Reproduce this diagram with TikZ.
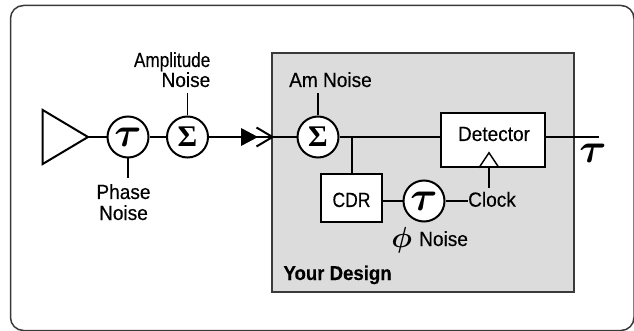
\documentclass[tikz,border=0pt]{standalone}
\usepackage[no-math]{fontspec}
\usepackage{amsmath}
\newfontfamily\lbl[FakeStretch=0.93,FakeBold=0.3]{Liberation Sans}
\newfontfamily\grk{Liberation Serif}
\usetikzlibrary{calc}
\definecolor{boxgray}{HTML}{DCDCDC}
\definecolor{edgegray}{HTML}{3A3A3A}
\newcommand\tausym{{\fontsize{20}{20}\selectfont\scalebox{2}{\boldmath$\tau$}}}
\newcommand\sigsym{{\grk\bfseries\fontsize{30}{30}\selectfont Σ}}
\newcommand\phisym{{\fontsize{20}{20}\selectfont\scalebox{1.4}{\boldmath$\phi$}}}
\begin{document}
\begin{tikzpicture}[x=1pt,y=-1pt,
  lbl/.style={font=\lbl\fontsize{20.5}{22}\selectfont, inner sep=0pt},
  lblb/.style={font=\lbl\bfseries\fontsize{20}{22}\selectfont, inner sep=0pt},
  ring/.style={circle, draw, line width=2pt, fill=white, minimum size=41pt, inner sep=0pt},
  blk/.style={draw, line width=1.5pt, fill=white, inner sep=0pt},
  wire/.style={line width=2pt, line cap=butt},
  frame/.style={draw=edgegray, line width=1.5pt, rounded corners=13pt}]
\useasboundingbox (0,0) rectangle (634,331);
% outer frame
\draw[frame] (10.5,5.5) rectangle (634,330.5);
% design box
\node[draw=edgegray, fill=boxgray, line width=1.3pt, minimum width=302pt, minimum height=239pt, inner sep=0pt] (design) at (423,172.5) {};
% amplifier
\coordinate (ampA) at (88,137);
\draw[line width=2pt, line join=miter] (42.7,110) -- (ampA) -- (42.7,164) -- cycle;
% nodes on main line
\node[ring] (tau1) at (128,137) {\tausym};
\node[ring] (sig1) at (187.5,137) {\sigsym};
\node[ring] (sig2) at (318,137) {\sigsym};
\node[blk, minimum width=104pt, minimum height=54pt] (det) at (493,140) {};
\node[lbl, anchor=base] (dettxt) at (494,141) {Detector};
\node[blk, minimum width=61pt, minimum height=48pt] (cdr) at (351.5,198) {};
\node[lbl, anchor=base] (cdrtxt) at (351.5,207) {\scalebox{0.92}[1]{CDR}};
\node[ring] (tau2) at (424,201) {\tausym};
\node[lbl, anchor=base west] (clocktxt) at (468,206.7) {Clock};
% labels
\node[lbl, anchor=base east] (ampl1) at (210.5,67) {\scalebox{0.9}[1]{Amplitude}};
\node[lbl, anchor=base east] (ampl2) at (210.5,87) {Noise};
\node[lbl, anchor=base] (ph1) at (123.5,199) {Phase};
\node[lbl, anchor=base] (ph2) at (123.5,220) {Noise};
\node[lbl, anchor=base] (amn) at (330.5,87) {Am Noise};
\node[inner sep=0pt] (phi) at (401.7,240) {\phisym};
\node[lbl, anchor=base west] (phin) at (419,246) {Noise};
\node[lblb, anchor=base west] (yd) at (283.3,280) {Your Design};
\node[inner sep=0pt] (outtau) at (593,153) {\tausym};
% connectors
\coordinate (entry) at (272.5,137);
\coordinate (out) at (599,137);
\draw[wire] (ampA) -- (tau1.west);
\draw[wire] (tau1.east) -- (sig1.west);
\draw[wire] (sig1.east) -- (sig2.west);
\fill ($(entry)+(-31.5,-9)$) -- ($(entry)+(-14.5,0)$) -- ($(entry)+(-31.5,9)$) -- cycle;
\draw[line width=2pt, line join=miter] ($(entry)+(-16,-9.5)$) -- (entry) -- ($(entry)+(-16,9.5)$);
\draw[wire] (sig2.east) -- (sig2.east -| det.west);
\draw[wire] (det.east |- out) -- (out);
\draw[wire] (cdr.north) -- (cdr.north |- sig2.east);
\draw[wire] (tau2.west -| cdr.east) -- (tau2.west);
\draw[wire] (tau2.east) -- (tau2.east -| clocktxt.west);
\draw[line width=1.2pt] (sig1.north) -- (sig1.north |- 0,93);
\draw[line width=1.2pt] (sig2.north) -- (sig2.north |- 0,93);
\draw[line width=1.2pt] (tau1.south) -- (tau1.south |- 0,178);
% clock input
\coordinate (clk) at ($(det.south)+(-4,0)$);
\draw[line width=1.5pt, line join=miter] ($(clk)+(-10,0)$) -- ($(clk)+(0,-15)$) -- ($(clk)+(10,0)$);
\draw[wire] (clk) -- (clk |- 0,188);
\end{tikzpicture}
\end{document}
